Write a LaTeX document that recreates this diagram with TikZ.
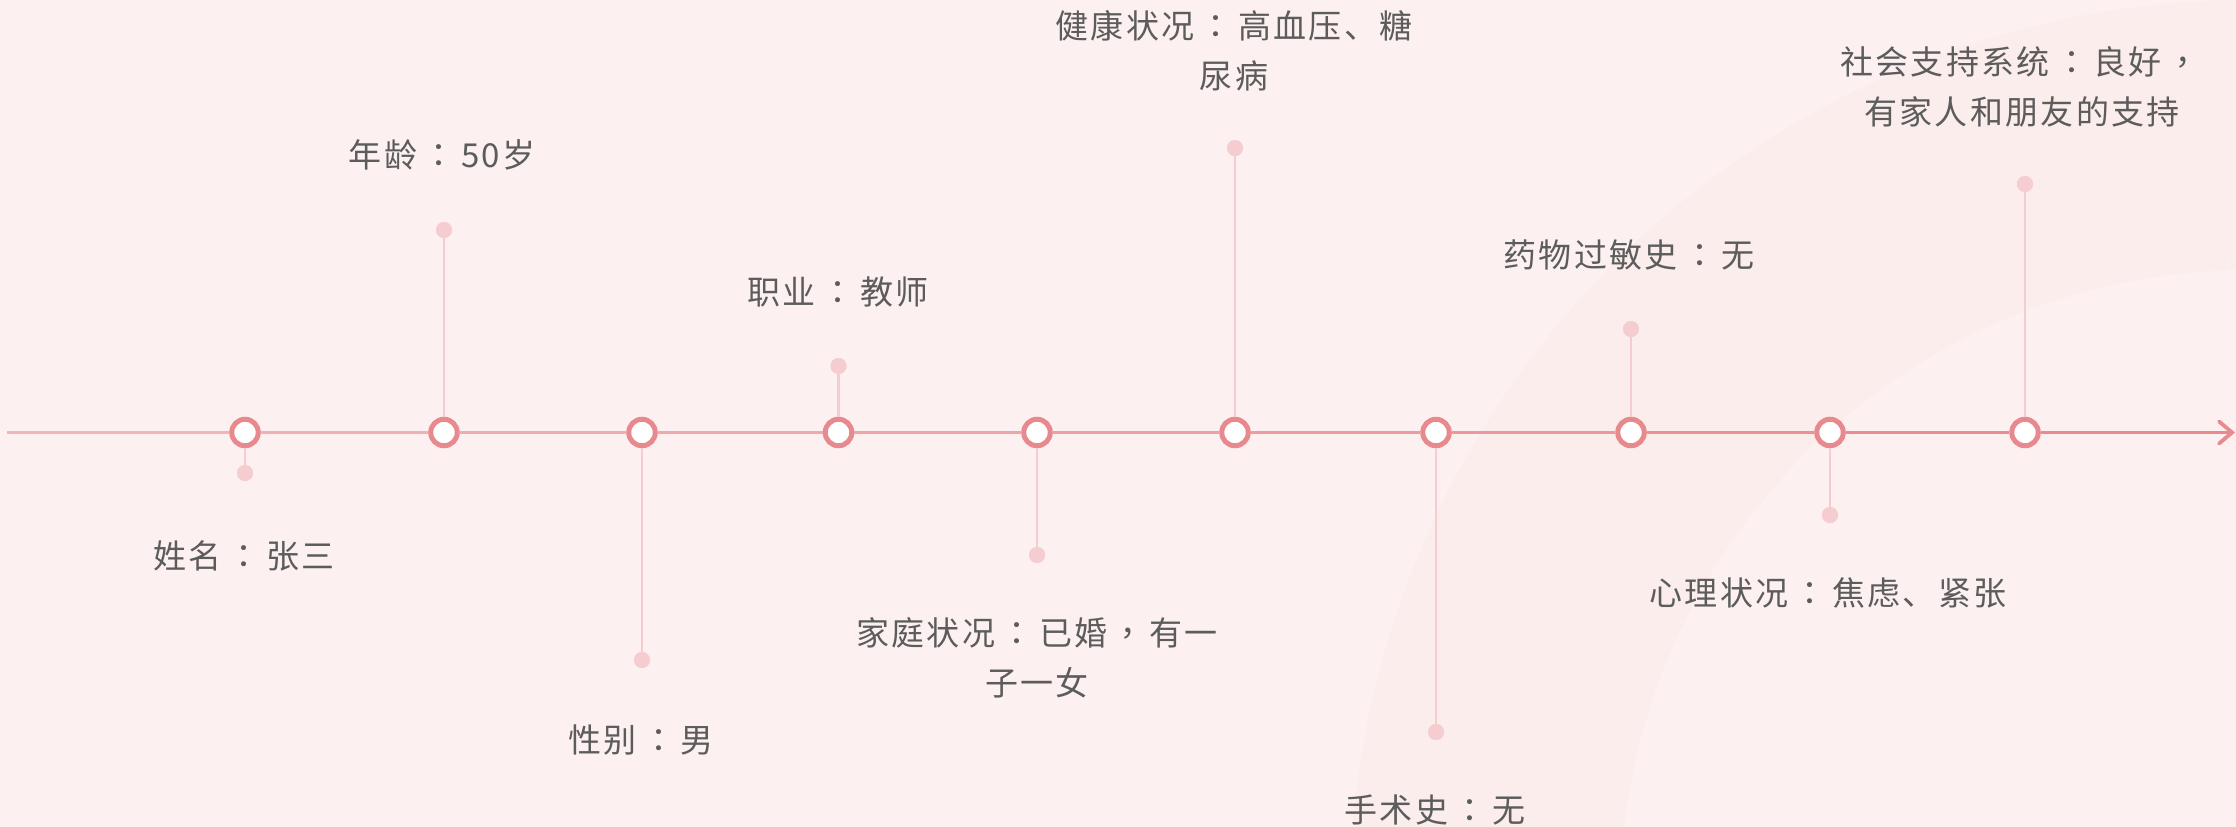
\documentclass[tikz,border=0pt]{standalone}
\usepackage{fontspec}
\newfontfamily\cjk[LetterSpace=7]{Noto Sans CJK SC}
\newfontfamily\cjkp{Noto Sans CJK TC}
\newcommand{\cc}{\makebox[44pt][c]{\cjkp ：}}
\newcommand{\cm}{\makebox[42pt][c]{\cjkp ，}}
\usetikzlibrary{arrows.meta}
\definecolor{bg}{HTML}{FCF1F0}
\definecolor{band}{HTML}{FBEDEC}
\definecolor{inner}{HTML}{FCF1F0}
\definecolor{lineL}{HTML}{F2B6B8}
\definecolor{lineR}{HTML}{E98A8F}
\definecolor{ring}{HTML}{E8898E}
\definecolor{stem}{HTML}{F5CDD0}
\definecolor{txt}{HTML}{5C5C5C}
\tikzset{
  evt/.style={circle, draw=ring, line width=5pt, fill=white, minimum size=26.5pt, inner sep=0pt},
  tipdot/.style={circle, fill=stem, minimum size=16pt, inner sep=0pt},
  stemline/.style={draw=stem, line width=2.6pt},
  lbl/.style={text=txt, font=\cjk\fontsize{33}{50}\selectfont, align=center, inner sep=0pt},
  axis/.style={line width=3.8pt}
}
\begin{document}
\begin{tikzpicture}[x=1pt,y=-1pt]
\useasboundingbox (0,0) rectangle (2236,827);
\fill[bg] (0,0) rectangle (2236,827);
\begin{scope}
\clip (0,0) rectangle (2236,827);
\fill[band] (2250,900) circle (900pt);
\fill[inner] (2250,900) circle (630pt);
\end{scope}
% event points
\node[evt] (n1) at (245,432.5) {};
\node[evt] (n2) at (444,432.5) {};
\node[evt] (n3) at (642,432.5) {};
\node[evt] (n4) at (838.5,432.5) {};
\node[evt] (n5) at (1037,432.5) {};
\node[evt] (n6) at (1235,432.5) {};
\node[evt] (n7) at (1436,432.5) {};
\node[evt] (n8) at (1631,432.5) {};
\node[evt] (n9) at (1830,432.5) {};
\node[evt] (n10) at (2025,432.5) {};
\coordinate (start) at (7,432.5);
\coordinate (end) at (2235,432.5);
% axis segments
\draw[axis, lineR!0!lineL] (start) -- (n1);
\draw[axis, lineR!10!lineL] (n1) -- (n2);
\draw[axis, lineR!20!lineL] (n2) -- (n3);
\draw[axis, lineR!30!lineL] (n3) -- (n4);
\draw[axis, lineR!40!lineL] (n4) -- (n5);
\draw[axis, lineR!50!lineL] (n5) -- (n6);
\draw[axis, lineR!60!lineL] (n6) -- (n7);
\draw[axis, lineR!70!lineL] (n7) -- (n8);
\draw[axis, lineR!85!lineL] (n8) -- (n9);
\draw[axis, lineR!95!lineL] (n9) -- (n10);
\draw[axis, lineR, -{Straight Barb[length=13pt,width=22pt,line cap=round]}] (n10) -- (end);
% dots
\node[tipdot] (d1) at (245,473) {};
\node[tipdot] (d2) at (444,230) {};
\node[tipdot] (d3) at (642,660) {};
\node[tipdot] (d4) at (838.5,366) {};
\node[tipdot] (d5) at (1037,555) {};
\node[tipdot] (d6) at (1235,148) {};
\node[tipdot] (d7) at (1436,732) {};
\node[tipdot] (d8) at (1631,329) {};
\node[tipdot] (d9) at (1830,515) {};
\node[tipdot] (d10) at (2025,184) {};
\foreach \i in {1,...,10} { \draw[stemline] (n\i) -- (d\i.center); }
\foreach \i in {1,...,10} { \node[tipdot] at (d\i) {}; }
% labels
\node[lbl] (l1) at (244,556) {姓名\cc 张三};
\node[lbl] (l2) at (442,155) {年龄\cc 50岁};
\node[lbl] (l3) at (641,740) {性别\cc 男};
\node[lbl] (l4) at (838,292) {职业\cc 教师};
\node[lbl] (l5) at (1037,658) {家庭状况\cc 已婚\cm 有一\\子一女};
\node[lbl] (l6) at (1234,51) {健康状况\cc 高血压、糖\\尿病};
\node[lbl] (l7) at (1435,810) {手术史\cc 无};
\node[lbl] (l8) at (1629,255) {药物过敏史\cc 无};
\node[lbl] (l9) at (1828,593) {心理状况\cc 焦虑、紧张};
\node[lbl] (l10) at (2022,87) {社会支持系统\cc 良好\cm\\有家人和朋友的支持};
\end{tikzpicture}
\end{document}
